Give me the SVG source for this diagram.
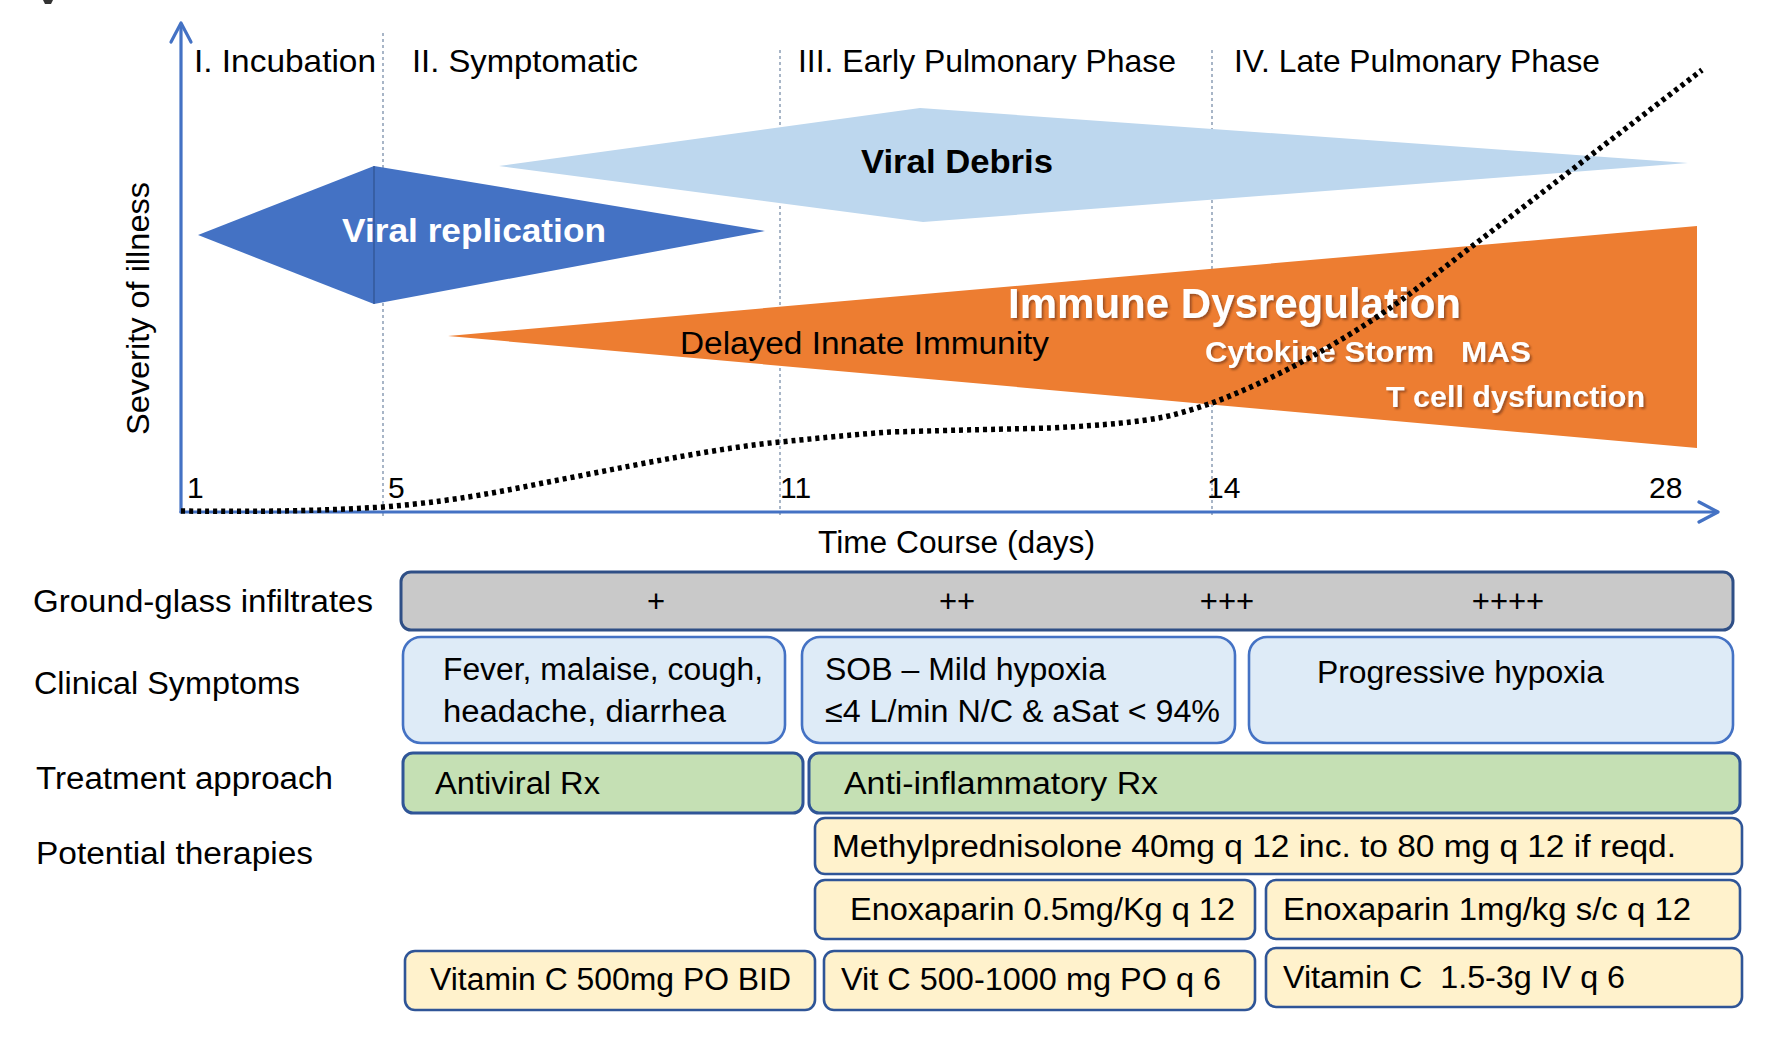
<svg xmlns="http://www.w3.org/2000/svg" width="1772" height="1037" viewBox="0 0 1772 1037">
<defs>
<style>
text{font-family:"Liberation Sans",Arial,sans-serif;fill:#000;}
.ph{font-size:32px;}
.lb{font-size:31px;}
.bx{font-size:31px;}
.num{font-size:30px;}
.wb{font-weight:bold;fill:#fff;}
.vline{stroke:#8497B0;stroke-width:1.4;stroke-dasharray:3 3;fill:none;}
.axis{stroke:#4472C4;stroke-width:3.2;fill:none;stroke-linecap:round;stroke-linejoin:round;}
.gray{fill:#C9C9C9;stroke:#2F4F86;stroke-width:3;}
.blue{fill:#DEEBF7;stroke:#4472C4;stroke-width:2.6;}
.green{fill:#C5E0B4;stroke:#2F5597;stroke-width:3;}
.yel{fill:#FFF2CC;stroke:#2F5597;stroke-width:2.6;}
</style>
<filter id="sh" x="-5%" y="-20%" width="110%" height="150%">
<feDropShadow dx="2" dy="2" stdDeviation="1.2" flood-color="#5a2a08" flood-opacity="0.55"/>
</filter>
</defs>
<rect width="1772" height="1037" fill="#fff"/>
<path d="M43,0 L53,0 L51,4 L45,4 Z" fill="#333"/>

<g id="phase-dividers">
<line class="vline" x1="383" y1="33" x2="383" y2="517"/>
<line class="vline" x1="780" y1="50" x2="780" y2="517"/>
<line class="vline" x1="1212" y1="50" x2="1212" y2="517"/>
</g>

<g id="phase-labels">
<text class="ph" x="194" y="72" textLength="182" lengthAdjust="spacingAndGlyphs">I. Incubation</text>
<text class="ph" x="412" y="72" textLength="226" lengthAdjust="spacingAndGlyphs">II. Symptomatic</text>
<text class="ph" x="798" y="72" textLength="378" lengthAdjust="spacingAndGlyphs">III. Early Pulmonary Phase</text>
<text class="ph" x="1234" y="72" textLength="366" lengthAdjust="spacingAndGlyphs">IV. Late Pulmonary Phase</text>
</g>

<g id="viral-debris">
<polygon points="499,166 920,108 1688,163 923,222" fill="#BDD7EE"/>
<text x="861" y="173" style="font-size:34px;font-weight:bold" textLength="192" lengthAdjust="spacingAndGlyphs">Viral Debris</text>
</g>

<g id="viral-replication">
<polygon points="198,235 374,166 765,231 374,304" fill="#4472C4"/>
<line x1="374" y1="166" x2="374" y2="304" stroke="#2F528F" stroke-width="1.2"/>
<text class="wb" x="342" y="242" style="font-size:34px" textLength="264" lengthAdjust="spacingAndGlyphs">Viral replication</text>
</g>

<g id="immune-dysregulation">
<polygon points="448,336 1697,226 1697,448" fill="#ED7D31"/>
<text x="680" y="354" style="font-size:31px" textLength="369" lengthAdjust="spacingAndGlyphs">Delayed Innate Immunity</text>
<text class="wb" x="1008" y="318" style="font-size:42px" filter="url(#sh)" textLength="453" lengthAdjust="spacingAndGlyphs">Immune Dysregulation</text>
<text class="wb" x="1205" y="362" style="font-size:29px" filter="url(#sh)" textLength="229" lengthAdjust="spacingAndGlyphs">Cytokine Storm</text>
<text class="wb" x="1461" y="362" style="font-size:29px" filter="url(#sh)" textLength="70" lengthAdjust="spacingAndGlyphs">MAS</text>
<text class="wb" x="1386" y="407" style="font-size:29px" filter="url(#sh)" textLength="259" lengthAdjust="spacingAndGlyphs">T cell dysfunction</text>
</g>

<g id="axes">
<line class="axis" x1="181" y1="512" x2="181" y2="24"/>
<polyline class="axis" points="171,42 181,23 191,42"/>
<line class="axis" x1="181" y1="512" x2="1717" y2="512"/>
<polyline class="axis" points="1699,502 1718,512 1699,522"/>
<text class="num" x="187" y="498">1</text>
<text class="num" x="388" y="498">5</text>
<text class="num" x="780" y="498">11</text>
<text class="num" x="1207" y="498">14</text>
<text class="num" x="1649" y="498">28</text>
<text class="lb" x="818" y="553" textLength="277" lengthAdjust="spacingAndGlyphs">Time Course (days)</text>
<text class="lb" transform="translate(149,435) rotate(-90)" x="0" y="0" textLength="253" lengthAdjust="spacingAndGlyphs">Severity of illness</text>
</g>

<g id="connectors">
<path d="M181,511 C260,512 320,511 383,507 C470,500 520,487 574,477 C650,462 720,448 780,442 C830,437 860,434 890,432 C960,430 1010,429 1051,428 C1108,425 1138,422 1164,417 C1182,413 1197,408 1212,403 C1287,375 1365,328 1415,290 L1702,70" fill="none" stroke="#000" stroke-width="5.5" stroke-dasharray="4 4"/>
</g>

<g id="row-labels">
<text class="lb" x="33" y="612" textLength="340" lengthAdjust="spacingAndGlyphs">Ground-glass infiltrates</text>
<text class="lb" x="34" y="694" textLength="266" lengthAdjust="spacingAndGlyphs">Clinical Symptoms</text>
<text class="lb" x="36" y="789" textLength="297" lengthAdjust="spacingAndGlyphs">Treatment approach</text>
<text class="lb" x="36" y="864" textLength="277" lengthAdjust="spacingAndGlyphs">Potential therapies</text>
</g>

<g id="ground-glass">
<rect class="gray" x="401" y="572" width="1332" height="58" rx="10"/>
<text class="bx" x="656" y="612" text-anchor="middle">+</text>
<text class="bx" x="957" y="612" text-anchor="middle">++</text>
<text class="bx" x="1227" y="612" text-anchor="middle">+++</text>
<text class="bx" x="1508" y="612" text-anchor="middle">++++</text>
</g>

<g id="symptoms-early">
<rect class="blue" x="403" y="637" width="382" height="106" rx="18"/>
<text class="bx" x="443" y="680" textLength="320" lengthAdjust="spacingAndGlyphs">Fever, malaise, cough,</text>
<text class="bx" x="443" y="722" textLength="283" lengthAdjust="spacingAndGlyphs">headache, diarrhea</text>
</g>
<g id="symptoms-mild">
<rect class="blue" x="802" y="637" width="433" height="106" rx="18"/>
<text class="bx" x="825" y="680" textLength="281" lengthAdjust="spacingAndGlyphs">SOB – Mild hypoxia</text>
<text class="bx" x="825" y="722" textLength="395" lengthAdjust="spacingAndGlyphs">≤4 L/min N/C &amp; aSat &lt; 94%</text>
</g>
<g id="symptoms-progressive">
<rect class="blue" x="1249" y="637" width="484" height="106" rx="18"/>
<text class="bx" x="1317" y="683" textLength="287" lengthAdjust="spacingAndGlyphs">Progressive hypoxia</text>
</g>

<g id="treatment-antiviral">
<rect class="green" x="403" y="753" width="400" height="60" rx="10"/>
<text class="bx" x="435" y="794" textLength="165" lengthAdjust="spacingAndGlyphs">Antiviral Rx</text>
</g>
<g id="treatment-antiinflammatory">
<rect class="green" x="809" y="753" width="931" height="60" rx="10"/>
<text class="bx" x="844" y="794" textLength="314" lengthAdjust="spacingAndGlyphs">Anti-inflammatory Rx</text>
</g>

<g id="therapy-methylpred">
<rect class="yel" x="815" y="818" width="927" height="56" rx="10"/>
<text class="bx" x="832" y="857" textLength="844" lengthAdjust="spacingAndGlyphs">Methylprednisolone 40mg q 12 inc. to 80 mg q 12 if reqd.</text>
</g>
<g id="therapy-enox-low">
<rect class="yel" x="815" y="880" width="440" height="59" rx="10"/>
<text class="bx" x="850" y="920" textLength="385" lengthAdjust="spacingAndGlyphs">Enoxaparin 0.5mg/Kg q 12</text>
</g>
<g id="therapy-enox-high">
<rect class="yel" x="1266" y="880" width="474" height="59" rx="10"/>
<text class="bx" x="1283" y="920" textLength="408" lengthAdjust="spacingAndGlyphs">Enoxaparin 1mg/kg s/c q 12</text>
</g>
<g id="therapy-vitc-low">
<rect class="yel" x="405" y="951" width="410" height="59" rx="10"/>
<text class="bx" x="430" y="990" textLength="361" lengthAdjust="spacingAndGlyphs">Vitamin C 500mg PO BID</text>
</g>
<g id="therapy-vitc-mid">
<rect class="yel" x="824" y="951" width="431" height="59" rx="10"/>
<text class="bx" x="841" y="990" textLength="380" lengthAdjust="spacingAndGlyphs">Vit C 500-1000 mg PO q 6</text>
</g>
<g id="therapy-vitc-high">
<rect class="yel" x="1266" y="948" width="476" height="59" rx="10"/>
<text class="bx" x="1283" y="988" xml:space="preserve" textLength="342" lengthAdjust="spacingAndGlyphs">Vitamin C  1.5-3g IV q 6</text>
</g>
</svg>
